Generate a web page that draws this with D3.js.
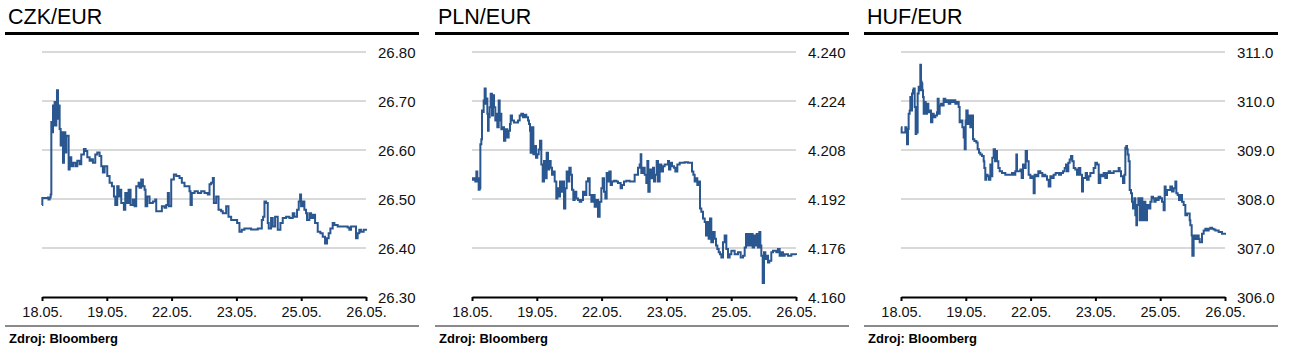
<!DOCTYPE html>
<html><head><meta charset="utf-8">
<script src="https://cdn.jsdelivr.net/npm/d3@7"></script>
<style>
html,body{margin:0;padding:0;background:#fff;}
svg{display:block;font-family:"Liberation Sans",Arial,sans-serif;}
</style></head>
<body>
<svg id="chart" width="1291" height="358"></svg>
<script>
// ---- data ----
const xTickLabels = ["18.05.","19.05.","22.05.","23.05.","25.05.","26.05."];
const titles = ["CZK/EUR","PLN/EUR","HUF/EUR"];
const sourceText = "Zdroj: Bloomberg";

const czkTicks = [26.30,26.40,26.50,26.60,26.70,26.80];
const plnTicks = [4.160,4.176,4.192,4.208,4.224,4.240];
const hufTicks = [306.0,307.0,308.0,309.0,310.0,311.0];

// [position along the day axis (0 = 18.05., 5 = 26.05.), rate]
const czk = [[0,26.488],[0.005,26.502],[0.092,26.503],[0.100,26.499],[0.118,26.503],[0.134,26.509],[0.144,26.657],[0.159,26.636],[0.170,26.691],[0.180,26.650],[0.195,26.698],[0.211,26.650],[0.221,26.691],[0.231,26.722],[0.247,26.664],[0.257,26.691],[0.272,26.643],[0.288,26.609],[0.308,26.636],[0.324,26.574],[0.339,26.636],[0.360,26.595],[0.375,26.629],[0.411,26.560],[0.427,26.585],[0.452,26.567],[0.478,26.574],[0.514,26.567],[0.545,26.578],[0.581,26.571],[0.606,26.591],[0.647,26.602],[0.673,26.598],[0.699,26.585],[0.735,26.578],[0.761,26.581],[0.786,26.574],[0.822,26.591],[0.853,26.595],[0.889,26.588],[0.915,26.567],[0.940,26.554],[0.966,26.567],[1.007,26.547],[1.043,26.533],[1.079,26.526],[1.110,26.505],[1.131,26.488],[1.161,26.526],[1.182,26.505],[1.202,26.519],[1.223,26.492],[1.264,26.478],[1.285,26.512],[1.316,26.492],[1.336,26.519],[1.367,26.488],[1.403,26.499],[1.429,26.485],[1.454,26.526],[1.490,26.533],[1.506,26.523],[1.531,26.540],[1.557,26.526],[1.583,26.519],[1.598,26.485],[1.624,26.505],[1.660,26.492],[1.711,26.495],[1.747,26.499],[1.763,26.475],[1.814,26.475],[1.850,26.485],[1.891,26.482],[1.917,26.488],[1.942,26.512],[1.958,26.485],[1.994,26.540],[2.035,26.550],[2.071,26.547],[2.122,26.543],[2.158,26.533],[2.199,26.526],[2.240,26.526],[2.276,26.516],[2.292,26.488],[2.312,26.512],[2.354,26.516],[2.405,26.512],[2.456,26.516],[2.508,26.512],[2.559,26.509],[2.585,26.530],[2.610,26.533],[2.636,26.543],[2.652,26.492],[2.688,26.505],[2.724,26.478],[2.765,26.475],[2.790,26.471],[2.842,26.485],[2.878,26.464],[2.919,26.457],[2.970,26.457],[3.011,26.451],[3.047,26.433],[3.083,26.437],[3.124,26.440],[3.227,26.438],[3.330,26.440],[3.371,26.440],[3.392,26.457],[3.412,26.464],[3.433,26.495],[3.458,26.492],[3.484,26.451],[3.499,26.440],[3.535,26.461],[3.561,26.444],[3.597,26.464],[3.638,26.437],[3.679,26.451],[3.715,26.461],[3.767,26.464],[3.818,26.461],[3.869,26.471],[3.895,26.464],[3.936,26.478],[3.962,26.495],[3.983,26.509],[3.998,26.485],[4.024,26.495],[4.049,26.478],[4.075,26.471],[4.090,26.457],[4.126,26.471],[4.152,26.461],[4.183,26.468],[4.214,26.451],[4.255,26.433],[4.296,26.430],[4.332,26.423],[4.368,26.409],[4.399,26.420],[4.424,26.430],[4.450,26.440],[4.486,26.451],[4.512,26.447],[4.563,26.444],[4.640,26.444],[4.717,26.442],[4.743,26.437],[4.769,26.444],[4.820,26.444],[4.846,26.420],[4.871,26.430],[4.897,26.437],[4.923,26.433],[4.964,26.437],[5.000,26.435]];

const pln = [[0,4.1988],[0.015,4.1983],[0.041,4.1988],[0.051,4.1977],[0.067,4.2010],[0.082,4.1977],[0.093,4.1988],[0.103,4.1950],[0.118,4.1955],[0.129,4.2099],[0.144,4.2115],[0.154,4.2209],[0.170,4.2204],[0.180,4.2242],[0.195,4.2281],[0.211,4.2231],[0.221,4.2248],[0.237,4.2198],[0.247,4.2143],[0.257,4.2187],[0.273,4.2220],[0.288,4.2264],[0.309,4.2193],[0.324,4.2259],[0.340,4.2220],[0.360,4.2176],[0.376,4.2198],[0.391,4.2154],[0.412,4.2242],[0.427,4.2176],[0.442,4.2198],[0.453,4.2148],[0.473,4.2154],[0.494,4.2110],[0.514,4.2148],[0.545,4.2121],[0.566,4.2143],[0.586,4.2165],[0.597,4.2193],[0.617,4.2176],[0.648,4.2170],[0.684,4.2170],[0.710,4.2176],[0.736,4.2193],[0.761,4.2198],[0.787,4.2187],[0.813,4.2195],[0.838,4.2187],[0.864,4.2176],[0.880,4.2165],[0.895,4.2143],[0.905,4.2071],[0.926,4.2154],[0.947,4.2066],[0.967,4.2093],[0.988,4.2055],[1.008,4.2066],[1.029,4.2082],[1.049,4.2110],[1.070,4.2033],[1.091,4.1977],[1.111,4.2044],[1.132,4.1988],[1.152,4.2071],[1.173,4.2016],[1.193,4.2044],[1.214,4.2022],[1.235,4.1999],[1.255,4.2010],[1.276,4.1977],[1.301,4.1922],[1.317,4.1955],[1.337,4.1928],[1.358,4.1977],[1.379,4.1944],[1.399,4.1977],[1.420,4.1889],[1.440,4.1955],[1.461,4.2010],[1.481,4.1977],[1.502,4.2022],[1.523,4.1999],[1.543,4.1950],[1.564,4.1917],[1.584,4.1944],[1.610,4.1922],[1.636,4.1917],[1.662,4.1911],[1.687,4.1917],[1.713,4.1944],[1.739,4.1933],[1.764,4.1977],[1.790,4.1988],[1.816,4.1933],[1.842,4.1911],[1.867,4.1933],[1.893,4.1895],[1.919,4.1917],[1.944,4.1862],[1.970,4.1911],[1.996,4.1955],[2.016,4.1988],[2.037,4.1944],[2.058,4.1922],[2.078,4.2005],[2.099,4.1977],[2.119,4.2010],[2.140,4.1966],[2.160,4.1977],[2.191,4.1980],[2.227,4.1977],[2.253,4.1972],[2.294,4.1955],[2.315,4.1966],[2.346,4.1977],[2.382,4.1980],[2.433,4.1977],[2.485,4.1977],[2.510,4.1999],[2.536,4.1999],[2.562,4.2022],[2.587,4.2033],[2.603,4.2066],[2.613,4.2005],[2.639,4.2022],[2.665,4.1999],[2.690,4.1972],[2.706,4.2044],[2.721,4.1944],[2.742,4.2016],[2.767,4.1988],[2.793,4.2022],[2.809,4.1977],[2.829,4.1999],[2.850,4.2044],[2.870,4.1977],[2.896,4.2033],[2.922,4.2010],[2.948,4.2027],[2.973,4.2033],[2.999,4.2033],[3.025,4.2044],[3.040,4.2016],[3.061,4.2038],[3.086,4.2027],[3.117,4.2022],[3.138,4.2010],[3.169,4.2033],[3.205,4.2038],[3.241,4.2038],[3.282,4.2040],[3.333,4.2038],[3.374,4.2038],[3.395,4.2010],[3.416,4.1999],[3.436,4.1977],[3.457,4.1988],[3.477,4.1966],[3.498,4.1977],[3.519,4.1889],[3.539,4.1878],[3.565,4.1856],[3.591,4.1845],[3.611,4.1801],[3.632,4.1845],[3.652,4.1790],[3.673,4.1856],[3.693,4.1779],[3.719,4.1812],[3.745,4.1790],[3.765,4.1768],[3.786,4.1757],[3.807,4.1746],[3.827,4.1740],[3.848,4.1729],[3.873,4.1779],[3.899,4.1801],[3.925,4.1757],[3.951,4.1729],[3.976,4.1740],[4.002,4.1751],[4.053,4.1740],[4.105,4.1746],[4.146,4.1729],[4.182,4.1735],[4.208,4.1762],[4.228,4.1806],[4.249,4.1768],[4.270,4.1806],[4.290,4.1768],[4.311,4.1806],[4.331,4.1762],[4.352,4.1801],[4.372,4.1768],[4.393,4.1806],[4.414,4.1762],[4.434,4.1812],[4.450,4.1768],[4.465,4.1735],[4.486,4.1646],[4.506,4.1746],[4.527,4.1724],[4.547,4.1735],[4.568,4.1713],[4.588,4.1718],[4.619,4.1746],[4.645,4.1751],[4.671,4.1751],[4.697,4.1746],[4.722,4.1757],[4.748,4.1735],[4.774,4.1746],[4.799,4.1735],[4.825,4.1740],[4.877,4.1735],[4.928,4.1740],[5.000,4.1737]];

const huf = [[0,309.462],[0.010,309.359],[0.041,309.359],[0.067,309.462],[0.082,309.359],[0.093,309.117],[0.108,309.428],[0.118,309.738],[0.134,309.807],[0.144,310.083],[0.159,309.807],[0.170,310.152],[0.185,310.221],[0.195,310.255],[0.211,309.876],[0.226,309.324],[0.237,309.876],[0.247,309.359],[0.257,310.152],[0.273,310.290],[0.288,310.221],[0.298,310.738],[0.309,310.393],[0.319,310.359],[0.329,310.221],[0.340,310.083],[0.350,309.738],[0.365,309.979],[0.381,309.738],[0.401,309.945],[0.422,309.772],[0.442,309.807],[0.463,309.566],[0.484,309.738],[0.504,309.669],[0.530,309.703],[0.556,309.772],[0.566,310.048],[0.581,309.738],[0.597,309.910],[0.617,309.945],[0.638,309.910],[0.658,310.048],[0.684,309.979],[0.710,310.014],[0.736,309.945],[0.761,310.014],[0.787,309.979],[0.813,310.014],[0.838,309.945],[0.864,309.979],[0.890,309.876],[0.905,309.566],[0.926,309.600],[0.947,309.462],[0.967,309.255],[0.983,309.014],[0.998,309.600],[1.008,309.807],[1.029,309.531],[1.044,309.703],[1.070,309.462],[1.091,309.703],[1.111,309.221],[1.132,309.186],[1.163,309.152],[1.183,309.014],[1.204,308.945],[1.224,308.910],[1.250,308.876],[1.276,308.772],[1.286,308.634],[1.301,308.393],[1.317,308.497],[1.337,308.462],[1.358,308.393],[1.379,308.703],[1.394,308.462],[1.409,308.841],[1.430,309.014],[1.451,308.772],[1.471,308.979],[1.481,308.772],[1.502,308.634],[1.523,308.566],[1.559,308.531],[1.610,308.497],[1.662,308.497],[1.713,308.531],[1.739,308.497],[1.764,308.566],[1.780,308.910],[1.790,308.566],[1.816,308.566],[1.842,308.600],[1.862,308.428],[1.883,308.703],[1.903,308.634],[1.924,308.979],[1.944,308.772],[1.970,308.497],[1.996,308.428],[2.022,308.462],[2.047,308.117],[2.063,308.497],[2.088,308.462],[2.119,308.566],[2.150,308.531],[2.181,308.462],[2.202,308.497],[2.227,308.462],[2.253,308.393],[2.279,308.255],[2.305,308.462],[2.330,308.428],[2.356,308.497],[2.387,308.531],[2.407,308.531],[2.438,308.497],[2.469,308.531],[2.500,308.566],[2.526,308.634],[2.546,308.703],[2.562,308.566],[2.582,308.738],[2.603,308.807],[2.623,308.876],[2.644,308.772],[2.665,308.634],[2.690,308.600],[2.716,308.497],[2.742,308.634],[2.767,308.497],[2.793,308.152],[2.809,308.428],[2.829,308.428],[2.850,308.531],[2.870,308.393],[2.896,308.462],[2.922,308.531],[2.948,308.531],[2.973,308.634],[2.999,308.738],[3.025,308.703],[3.051,308.324],[3.076,308.497],[3.102,308.462],[3.128,308.531],[3.153,308.428],[3.179,308.531],[3.205,308.566],[3.230,308.531],[3.282,308.566],[3.333,308.566],[3.359,308.634],[3.374,308.566],[3.395,308.462],[3.426,308.324],[3.447,308.497],[3.462,309.048],[3.477,309.083],[3.488,309.014],[3.498,308.910],[3.513,308.772],[3.529,308.186],[3.549,308.117],[3.565,307.945],[3.580,307.807],[3.601,308.014],[3.616,307.669],[3.632,307.462],[3.642,307.876],[3.663,308.014],[3.683,307.566],[3.704,308.014],[3.724,307.566],[3.745,307.945],[3.771,307.566],[3.796,307.876],[3.822,307.807],[3.848,307.945],[3.868,308.048],[3.889,308.014],[3.909,307.945],[3.930,308.014],[3.951,307.979],[3.976,308.048],[4.002,308.014],[4.028,307.945],[4.053,307.772],[4.069,308.255],[4.084,308.083],[4.105,308.186],[4.131,308.186],[4.156,308.255],[4.182,308.152],[4.208,308.221],[4.234,308.359],[4.249,308.117],[4.270,308.083],[4.290,307.979],[4.311,308.083],[4.336,307.945],[4.362,307.876],[4.388,307.669],[4.414,307.703],[4.439,307.703],[4.455,307.566],[4.465,307.462],[4.486,307.255],[4.496,306.841],[4.516,307.255],[4.542,307.186],[4.568,307.255],[4.594,307.186],[4.609,307.117],[4.630,307.117],[4.645,307.290],[4.671,307.359],[4.697,307.393],[4.722,307.359],[4.748,307.393],[4.774,307.414],[4.799,307.393],[4.825,307.379],[4.851,307.359],[4.877,307.359],[4.902,307.324],[4.928,307.324],[4.954,307.290],[5.000,307.269]];

// ---- drawing ----
const svg = d3.select("#chart");
const panels = [
  {title: titles[0], data: czk, ticks: czkTicks, fmt: d3.format(".2f"), x0: 0},
  {title: titles[1], data: pln, ticks: plnTicks, fmt: d3.format(".3f"), x0: 430},
  {title: titles[2], data: huf, ticks: hufTicks, fmt: d3.format(".1f"), x0: 859}
];

const lineColor = "#2a5790";
const plotL = 42, plotR = 366, plotT = 52, plotB = 297;

panels.forEach(p => {
  const g = svg.append("g").attr("transform", `translate(${p.x0},0)`);

  g.append("text").attr("x", 8).attr("y", 24)
    .attr("font-size", 21.5).attr("fill", "#000").text(p.title);
  g.append("rect").attr("x", 5).attr("y", 32).attr("width", 414).attr("height", 3).attr("fill", "#000");

  const x = d3.scaleLinear().domain([0, xTickLabels.length - 1]).range([plotL, plotR]);
  const y = d3.scaleLinear().domain([p.ticks[0], p.ticks[p.ticks.length - 1]]).range([plotB, plotT]);

  // gridlines
  g.append("g").selectAll("line").data(p.ticks.slice(1)).join("line")
    .attr("x1", plotL).attr("x2", plotR)
    .attr("y1", d => y(d)).attr("y2", d => y(d))
    .attr("stroke", "#d9d9d9").attr("stroke-width", 2);

  // y labels (right)
  const ya = d3.axisRight(y).tickValues(p.ticks).tickFormat(p.fmt).tickSize(0).tickPadding(0);
  const yg = g.append("g").attr("transform", `translate(${plotR + 12},0)`).call(ya);
  yg.select(".domain").remove();
  yg.selectAll("text").attr("font-size", 15).attr("fill", "#111")
    .attr("font-family", '"Liberation Sans",Arial,sans-serif').attr("dy", "0.36em").attr("x", 0);

  // x axis
  const xa = d3.axisBottom(x).tickValues(d3.range(xTickLabels.length))
    .tickFormat(i => xTickLabels[i]).tickSize(4).tickSizeOuter(0).tickPadding(6);
  const xg = g.append("g").attr("transform", `translate(0,${plotB})`).call(xa);
  xg.select(".domain").attr("stroke", "#000").attr("stroke-width", 2);
  xg.selectAll(".tick line").attr("stroke", "#000").attr("stroke-width", 2);
  xg.selectAll("text").attr("font-size", 14.5).attr("fill", "#111")
    .attr("font-family", '"Liberation Sans",Arial,sans-serif');

  // line
  const line = d3.line().x(d => x(d[0])).y(d => y(d[1])).curve(d3.curveStepAfter);
  g.append("path").datum(p.data).attr("d", line)
    .attr("fill", "none").attr("stroke", lineColor).attr("stroke-width", 2)
    .attr("stroke-linejoin", "miter");

  // footer
  g.append("rect").attr("x", 5).attr("y", 325).attr("width", 414).attr("height", 2).attr("fill", "#8a8a8a");
  g.append("text").attr("x", 9).attr("y", 342.5).attr("font-size", 13).attr("font-weight", "bold")
    .attr("fill", "#000").text(sourceText);
});
</script>
</body></html>
